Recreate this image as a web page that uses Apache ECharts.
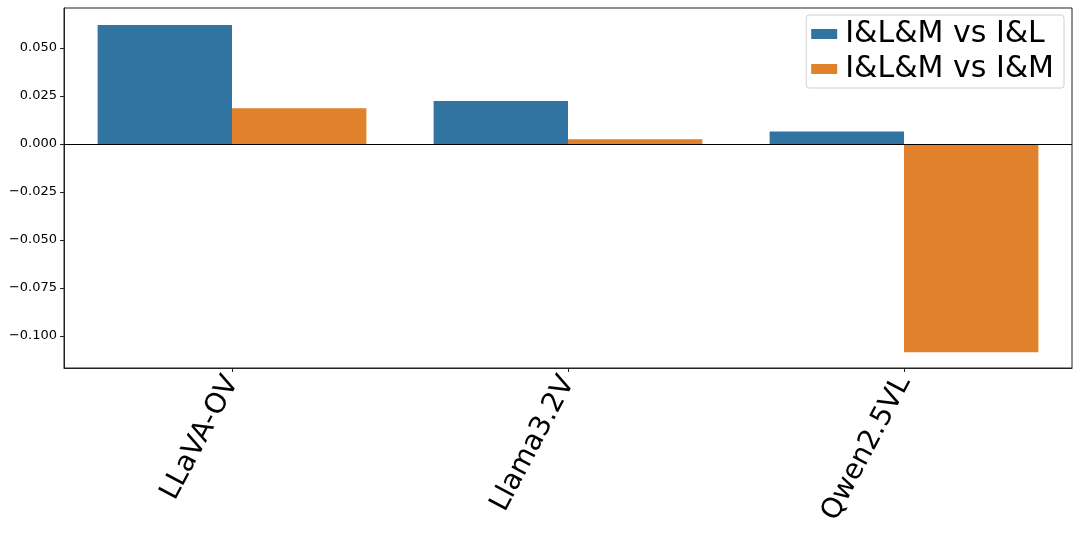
<!DOCTYPE html>
<html>
<head>
<meta charset="utf-8">
<script src="https://cdn.jsdelivr.net/npm/echarts@6/dist/echarts.min.js"></script>
<style>
  html, body { margin: 0; padding: 0; background: #fff; }
  #chart { width: 1080px; height: 535px; }
</style>
</head>
<body>
<div id="chart"></div>
<script>
// categories and values
const models = ['LLaVA-OV', 'Llama3.2V', 'Qwen2.5VL']
const vsIL = [0.062, 0.0224, 0.0065]
const vsIM = [0.0186, 0.0025, -0.1085]
const yTicks = [-0.1, -0.075, -0.05, -0.025, 0, 0.025, 0.05]

const blue = '#3274a1'
const orange = '#e1812c'

const myChart = echarts.init(document.getElementById('chart'))

function fmt (v) {
    let s = Math.abs(v).toFixed(3)
    return v < -1e-9 ? '\u2212' + s : s
}

let option = {
    animation: false,
    textStyle: { fontFamily: 'DejaVu Sans' },
    grid: {
        left: 64,
        right: 8,
        top: 8,
        bottom: 167,
        show: true,
        borderColor: '#222',
        borderWidth: 1
    },
    legend: {
        orient: 'vertical',
        right: 16,
        top: 15,
        itemWidth: 26,
        itemHeight: 10,
        itemGap: 5,
        padding: [4, 10, 4, 5],
        backgroundColor: 'rgba(255,255,255,0.8)',
        borderColor: '#d0d0d0',
        borderWidth: 1,
        borderRadius: 3,
        icon: 'rect',
        textStyle: { fontSize: 30, color: '#000', fontFamily: 'DejaVu Sans', padding: [0, 0, 0, 3] },
        data: ['I&L&M vs I&L', 'I&L&M vs I&M']
    },
    xAxis: {
        type: 'category',
        data: models,
        axisLine: { show: true, onZero: false, lineStyle: { color: '#222', width: 1 } },
        axisTick: { show: true, alignWithLabel: true, length: 4, lineStyle: { color: '#222' } },
        axisLabel: {
            rotate: 62,
            margin: 10,
            fontSize: 28,
            color: '#000',
            fontFamily: 'DejaVu Sans'
        },
        splitLine: { show: false }
    },
    yAxis: {
        type: 'value',
        min: -0.11667,
        max: 0.07083,
        axisLine: { show: true, lineStyle: { color: '#222', width: 1 } },
        axisTick: { show: true, length: 4, customValues: yTicks, lineStyle: { color: '#222' } },
        axisLabel: {
            customValues: yTicks,
            formatter: fmt,
            fontSize: 13,
            color: '#000',
            margin: 7,
            fontFamily: 'DejaVu Sans'
        },
        splitLine: { show: false }
    },
    series: [
        {
            name: 'I&L&M vs I&L',
            type: 'bar',
            data: vsIL,
            barGap: '0%',
            barCategoryGap: '20%',
            itemStyle: { color: blue },
            markLine: {
                silent: true,
                symbol: 'none',
                label: { show: false },
                lineStyle: { color: '#000', width: 1, type: 'solid' },
                data: [{ yAxis: 0 }]
            }
        },
        {
            name: 'I&L&M vs I&M',
            type: 'bar',
            data: vsIM,
            barGap: '0%',
            barCategoryGap: '20%',
            itemStyle: { color: orange }
        }
    ]
}
option && myChart.setOption(option);
</script>
</body>
</html>
